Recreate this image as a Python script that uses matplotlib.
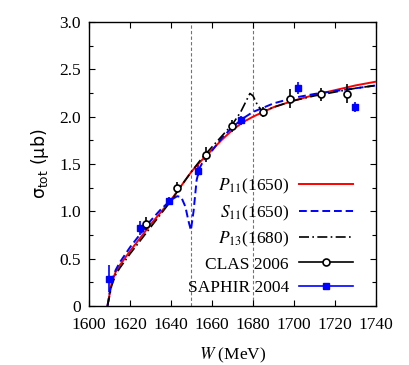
import matplotlib
matplotlib.use("Agg")
import matplotlib.pyplot as plt
from matplotlib.ticker import MultipleLocator, FuncFormatter
from matplotlib.lines import Line2D

plt.rcParams['font.family'] = ['Liberation Serif', 'DejaVu Serif']
plt.rcParams['mathtext.fontset'] = 'stix'

# P11(1650) curve
w_p11 = [1609, 1610, 1611, 1613, 1615, 1620, 1625, 1630, 1635, 1640, 1645, 1650, 1652, 1655,
         1660, 1665, 1670, 1675, 1680, 1685, 1690, 1700, 1710, 1720, 1730, 1740]
s_p11 = [0.0, 0.12, 0.24, 0.36, 0.43, 0.58, 0.72, 0.86, 0.99, 1.12, 1.27, 1.42, 1.47, 1.54,
         1.65, 1.76, 1.86, 1.94, 2.00, 2.05, 2.10, 2.17, 2.23, 2.28, 2.33, 2.37]

# S11(1650) curve
w_s11 = [1609, 1610, 1611, 1613, 1615, 1620, 1625, 1630, 1635, 1640, 1643, 1645, 1647, 1648.5,
         1649.7, 1651, 1652.5, 1654, 1656, 1660, 1665, 1670, 1675, 1680, 1690, 1700, 1710, 1720,
         1730, 1740]
s_s11 = [0.0, 0.13, 0.26, 0.38, 0.46, 0.62, 0.76, 0.90, 1.02, 1.12, 1.16, 1.15, 1.05, 0.90,
         0.80, 1.00, 1.33, 1.46, 1.54, 1.64, 1.78, 1.89, 1.98, 2.05, 2.14, 2.20, 2.24, 2.27,
         2.30, 2.33]

# P13(1680) curve
w_p13 = [1609, 1610, 1611, 1613, 1615, 1620, 1625, 1630, 1635, 1640, 1645, 1650, 1655, 1660,
         1665, 1670, 1674, 1677, 1678.5, 1680, 1682, 1684, 1687, 1690, 1700, 1710, 1720, 1730, 1740]
s_p13 = [0.0, 0.10, 0.21, 0.33, 0.40, 0.55, 0.69, 0.83, 0.97, 1.11, 1.27, 1.42, 1.56, 1.68,
         1.80, 1.92, 2.05, 2.18, 2.245, 2.22, 2.13, 2.07, 2.07, 2.10, 2.17, 2.22, 2.26, 2.30, 2.33]

# CLAS 2006 data
w_clas = [1628, 1643, 1657, 1670, 1685, 1698, 1713, 1726]
s_clas = [0.87, 1.25, 1.60, 1.90, 2.05, 2.19, 2.235, 2.24]
e_clas = [0.07, 0.06, 0.08, 0.06, 0.055, 0.10, 0.07, 0.10]

# SAPHIR 2004 data
w_saphir = [1610, 1625, 1639, 1653, 1674, 1702, 1730]
s_saphir = [0.29, 0.82, 1.11, 1.43, 1.96, 2.30, 2.10]
e_saphir = [0.14, 0.075, 0.04, 0.06, 0.05, 0.065, 0.055]

fig = plt.figure(figsize=(4.09, 3.65), dpi=100)
ax = fig.add_axes([89/409, 59/365, 287/409, 284/365])

for xv in [1650, 1680]:
    ax.axvline(xv, color='0.45', lw=0.8, ls=(0, (3, 2)), zorder=1)

ax.plot(w_p11, s_p11, color='#ff0000', lw=1.4, zorder=3)
ax.plot(w_s11, s_s11, color='#0000ff', lw=1.4, ls=(0, (4, 2)), zorder=3)
ax.plot(w_p13, s_p13, color='black', lw=1.2, ls=(0, (6, 2, 1, 2)), zorder=3)

ax.errorbar(w_clas, s_clas, yerr=e_clas, fmt='o', color='black', mfc='white', mec='black',
            ms=5, mew=1.2, elinewidth=1.2, capsize=0, zorder=5)
ax.errorbar(w_saphir, s_saphir, yerr=e_saphir, fmt='s', color='#0000ff', mfc='#0000ff',
            mec='#0000ff', ms=3.8, elinewidth=1.2, capsize=0, zorder=4)

ax.set_xlim(1600, 1740)
ax.set_ylim(0, 3.0)
ax.xaxis.set_major_locator(MultipleLocator(20))
ax.yaxis.set_major_locator(MultipleLocator(0.5))
ax.yaxis.set_minor_locator(MultipleLocator(0.25))
ax.yaxis.set_major_formatter(FuncFormatter(lambda v, p: '0' if abs(v) < 1e-9 else '%.1f' % v))
ax.tick_params(which='both', direction='in', top=True, right=True, labelsize=12.5)
ax.tick_params(which='major', length=4.5, width=0.8)
ax.tick_params(which='minor', length=3, width=0.8)
ax.tick_params(axis='x', pad=8)
ax.tick_params(axis='y', pad=6)
for s in ax.spines.values():
    s.set_linewidth(1.0)

ax.set_xlabel('$W$ (MeV)', fontsize=12.5, labelpad=9)
ax.set_ylabel(r'σ$_{\rm tot}$ (μb)', fontsize=12.5, family='DejaVu Sans',
              math_fontfamily='dejavusans', labelpad=6)

handles = [
    Line2D([], [], color='#ff0000', lw=1.4),
    Line2D([], [], color='#0000ff', lw=1.4, ls=(0, (4, 2))),
    Line2D([], [], color='black', lw=1.2, ls=(0, (6, 2, 1, 2))),
    Line2D([], [], color='black', lw=1.2, marker='o', mfc='white', mec='black', ms=5, mew=1.2),
    Line2D([], [], color='#0000ff', lw=1.2, marker='s', mfc='#0000ff', mec='#0000ff', ms=3.8),
]
labels = ['$P_{11}$(1650)', '$S_{11}$(1650)', '$P_{13}$(1680)', 'CLAS 2006', 'SAPHIR 2004']
leg = ax.legend(handles, labels, loc='lower right', bbox_to_anchor=((353-89)/287, (306-296)/284),
                frameon=False, markerfirst=False, handlelength=3.1, handletextpad=0.6,
                labelspacing=0.42, borderpad=0, borderaxespad=0, fontsize=12.5)
for t in leg.get_texts():
    t.set_ha('right')

fig.savefig('out.png', dpi=100)
